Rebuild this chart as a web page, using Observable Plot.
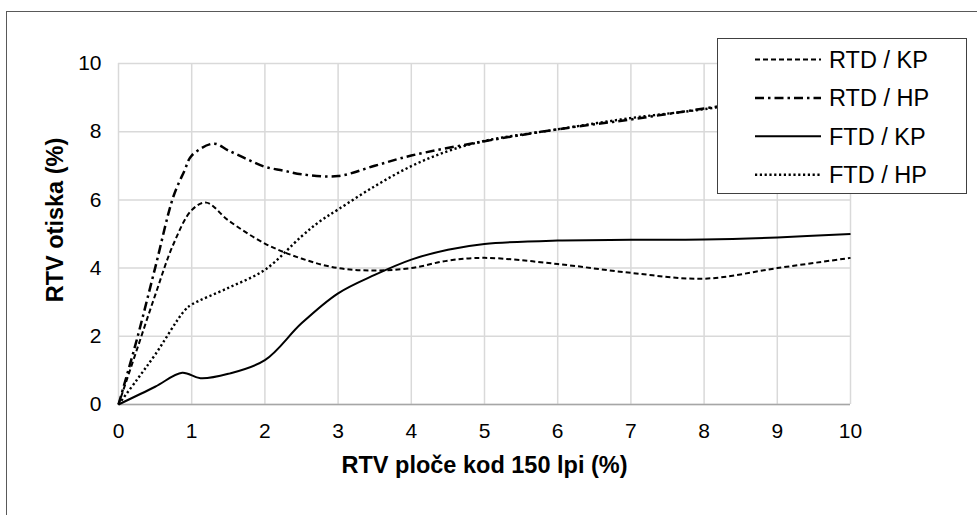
<!DOCTYPE html>
<html><head><meta charset="utf-8">
<script src="https://cdn.jsdelivr.net/npm/d3@7"></script>
<script src="https://cdn.jsdelivr.net/npm/@observablehq/plot@0.6"></script>
<style>
html,body{margin:0;padding:0;background:#fff;overflow:hidden;}
#wrap{position:relative;width:977px;height:515px;font-family:"Liberation Sans",Arial,sans-serif;}
#wrap > svg{position:absolute;left:0;top:0;}
#frame{position:absolute;left:6px;top:11px;width:1000px;height:1000px;border-left:1.5px solid #595959;border-top:1.5px solid #595959;}
#legend{position:absolute;left:717px;top:38px;width:250px;height:156px;box-sizing:border-box;border:1px solid #404040;background:#fff;}
#legend svg{display:block;}
</style></head><body><div id="wrap"></div>
<script>
const xTicks = [0,1,2,3,4,5,6,7,8,9,10];
const yTicks = [0,2,4,6,8,10];
const xTitle = "RTV ploče kod 150 lpi (%)";
const yTitle = "RTV otiska (%)";
const seriesNames = ["RTD / KP","RTD / HP","FTD / KP","FTD / HP"];

const rtdKpX = [0,0.25,0.5,0.75,1,1.2,1.5,2,2.5,3,3.5,4,4.5,5,6,7,8,9,10];
const rtdKpY = [0,1.6,3.2,4.7,5.7,5.92,5.4,4.72,4.28,4.0,3.93,4.0,4.22,4.3,4.12,3.86,3.69,4.0,4.3];

const rtdHpX = [0,0.25,0.5,0.75,0.9,1,1.3,1.5,1.75,2,2.25,2.5,3,3.5,4,5,6,7,8,9,10];
const rtdHpY = [0,1.9,4.0,6.1,6.85,7.3,7.65,7.45,7.2,6.97,6.86,6.75,6.7,7.0,7.3,7.72,8.07,8.36,8.68,9.0,9.3];

const ftdKpX = [0,0.5,0.87,1.12,1.5,2,2.5,3,3.5,4,4.5,5,6,7,8,9,10];
const ftdKpY = [0,0.52,0.93,0.77,0.9,1.3,2.38,3.26,3.8,4.25,4.54,4.71,4.81,4.83,4.84,4.9,5.0];

const ftdHpX = [0,0.25,0.5,0.9,1,1.5,2,2.5,2.75,3,3.5,4,4.5,5,6,7,8,9,10];
const ftdHpY = [0,0.72,1.46,2.75,2.93,3.42,3.95,4.93,5.37,5.72,6.4,6.99,7.43,7.73,8.07,8.4,8.66,9.0,9.3];

const seriesX = [rtdKpX, rtdHpX, ftdKpX, ftdHpX];
const seriesY = [rtdKpY, rtdHpY, ftdKpY, ftdHpY];

const styles = [
  {dash: "5,3", width: 2},
  {dash: "9,4,2.5,4", width: 2.5},
  {dash: "none", width: 2},
  {dash: "2.2,2.6", width: 2.4}
];

const rows = seriesNames.map((name, i) => seriesX[i].map((x, j) => ({name, x, y: seriesY[i][j]})));

const lineMarks = rows.map((data, i) => Plot.line(data, {
  x: "x", y: "y", curve: "catmull-rom", stroke: "#000",
  strokeWidth: styles[i].width, strokeDasharray: styles[i].dash,
  strokeLinecap: "butt", strokeLinejoin: "round"
}));

const chart = Plot.plot({
  width: 977, height: 515,
  marginLeft: 118, marginRight: 127, marginTop: 63, marginBottom: 111,
  style: {fontFamily: '"Liberation Sans", Arial, sans-serif', fontSize: "21px", color: "#000", background: "transparent"},
  x: {domain: [0, 10]},
  y: {domain: [0, 10]},
  marks: [
    Plot.gridX(xTicks, {stroke: "#d9d9d9", strokeOpacity: 1, strokeWidth: 1.5}),
    Plot.gridY(yTicks, {stroke: "#d9d9d9", strokeOpacity: 1, strokeWidth: 1.5}),
    Plot.ruleY([0], {stroke: "#a6a6a6", strokeWidth: 1.5}),
    Plot.axisX(xTicks, {tickSize: 0, tickPadding: 19, fontSize: 21, label: null}),
    Plot.axisY(yTicks, {tickSize: 0, tickPadding: 17, fontSize: 21, label: null}),
    Plot.text([xTitle], {text: d => d, frameAnchor: "bottom", dy: 61, lineAnchor: "middle", textAnchor: "middle", fontWeight: "bold", fontSize: 23.5}),
    Plot.text([yTitle], {text: d => d, frameAnchor: "left", rotate: -90, dx: -63, dy: -14, lineAnchor: "middle", textAnchor: "middle", fontWeight: "bold", fontSize: 23.5}),
    ...lineMarks
  ]
});

const wrap = document.getElementById("wrap");
wrap.appendChild(chart);
d3.select(wrap).append("div").attr("id", "frame");

const legend = d3.select(wrap).append("div").attr("id", "legend");
const lsvg = legend.append("svg").attr("width", 248).attr("height", 154);
seriesNames.forEach((name, i) => {
  const cy = 20.5 + i * 38.4;
  lsvg.append("line")
    .attr("x1", 37).attr("x2", 103).attr("y1", cy).attr("y2", cy)
    .attr("stroke", "#000").attr("stroke-width", styles[i].width)
    .attr("stroke-dasharray", styles[i].dash).attr("stroke-linecap", "butt");
  lsvg.append("text")
    .attr("x", 111).attr("y", cy).attr("dy", "0.35em")
    .attr("font-size", 23.5).attr("fill", "#000")
    .attr("font-family", '"Liberation Sans", Arial, sans-serif')
    .text(name);
});
</script></body></html>
